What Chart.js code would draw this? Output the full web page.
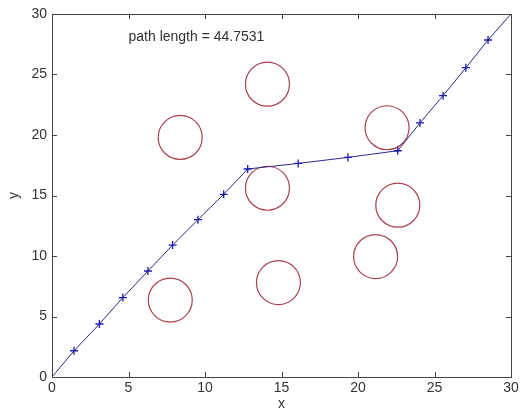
<!DOCTYPE html>
<html>
<head>
<meta charset="utf-8">
<script src="https://cdn.jsdelivr.net/npm/chart.js@4"></script>
<style>
  html, body { margin: 0; padding: 0; background: #fff; }
  #wrap { width: 520px; height: 415px; }
</style>
</head>
<body>
<div id="wrap"><canvas id="myChart" width="520" height="415"></canvas></div>
<script>
// path points (first and last are start / goal, drawn without markers)
const pathX = [0, 1.44, 3.1, 4.63, 6.27, 7.88, 9.54, 11.22, 12.79, 16.09, 19.34, 22.6, 24.05, 25.56, 27.05, 28.5, 30];
const pathY = [0, 2.17, 4.38, 6.56, 8.76, 10.9, 13.0, 15.1, 17.19, 17.65, 18.15, 18.7, 21.0, 23.25, 25.56, 27.85, 30];

// obstacle centres
const obsX = [8.38, 14.08, 14.08, 21.9, 22.6, 21.15, 14.8, 7.73];
const obsY = [19.8, 24.2, 15.6, 20.6, 14.2, 9.95, 7.8, 6.36];

const xTicks = [0, 5, 10, 15, 20, 25, 30];
const yTicks = [0, 5, 10, 15, 20, 25, 30];
const noteText = "path length = 44.7531";
const noteX = 5;
const noteY = 28.1;

const pathData = pathX.map((x, i) => ({ x: x, y: pathY[i] }));
const obsData = obsX.map((x, i) => ({ x: x, y: obsY[i], r: 22 }));

const fontFam = "'Liberation Sans', Arial, sans-serif";

// matlab-ish box with inward ticks and the text label
const boxPlugin = {
  id: "box",
  afterDraw(chart) {
    const { ctx, chartArea: a, scales } = chart;
    ctx.save();
    ctx.strokeStyle = "#444";
    ctx.lineWidth = 1;
    ctx.strokeRect(a.left + 0.5, a.top + 0.5, a.right - a.left, a.bottom - a.top);
    ctx.beginPath();
    xTicks.forEach((v) => {
      const px = Math.round(scales.x.getPixelForValue(v)) + 0.5;
      ctx.moveTo(px, a.bottom); ctx.lineTo(px, a.bottom - 5);
      ctx.moveTo(px, a.top); ctx.lineTo(px, a.top + 5);
    });
    yTicks.forEach((v) => {
      const py = Math.round(scales.y.getPixelForValue(v)) + 0.5;
      ctx.moveTo(a.left, py); ctx.lineTo(a.left + 5, py);
      ctx.moveTo(a.right, py); ctx.lineTo(a.right - 5, py);
    });
    ctx.stroke();
    ctx.fillStyle = "#333";
    ctx.font = "14px " + fontFam;
    ctx.textBaseline = "middle";
    ctx.fillText(noteText, scales.x.getPixelForValue(noteX), scales.y.getPixelForValue(noteY));
    ctx.restore();
  },
};

const ctx = document.getElementById("myChart").getContext("2d");
new Chart(ctx, {
  type: "scatter",
  data: {
    datasets: [
      {
        type: "line",
        label: "path",
        data: pathData,
        borderColor: "#2a2a8a",
        borderWidth: 1,
        pointStyle: "cross",
        pointRadius: pathData.map((p, i) => (i === 0 || i === pathData.length - 1 ? 0 : 4)),
        pointBorderColor: "#1a1aa8",
        pointBorderWidth: 1.3,
        fill: false,
        tension: 0,
      },
      {
        type: "bubble",
        label: "obstacles",
        data: obsData,
        backgroundColor: "rgba(0,0,0,0)",
        borderColor: "#a84050",
        borderWidth: 1.2,
      },
    ],
  },
  options: {
    responsive: false,
    animation: false,
    events: [],
    layout: { autoPadding: false, padding: { top: 14, right: 9, left: 0, bottom: 0 } },
    plugins: { legend: { display: false }, tooltip: { enabled: false } },
    scales: {
      x: {
        type: "linear",
        min: 0,
        max: 30,
        afterFit: (s) => { s.height = 38; s.paddingLeft = 0; s.paddingRight = 0; },
        afterBuildTicks: (s) => { s.ticks = xTicks.map((v) => ({ value: v })); },
        grid: { display: false, drawTicks: false },
        border: { display: false },
        ticks: { color: "#333", font: { size: 14, family: fontFam }, padding: 3 },
        title: { display: true, text: "x", color: "#333", font: { size: 14, family: fontFam }, padding: { top: 0, bottom: 2 } },
      },
      y: {
        type: "linear",
        min: 0,
        max: 30,
        afterFit: (s) => { s.width = 52; s.paddingTop = 0; s.paddingBottom = 0; },
        afterBuildTicks: (s) => { s.ticks = yTicks.map((v) => ({ value: v })); },
        grid: { display: false, drawTicks: false },
        border: { display: false },
        ticks: { color: "#333", font: { size: 14, family: fontFam }, padding: 5 },
        title: { display: true, text: "y", color: "#333", font: { size: 14, family: fontFam }, padding: { top: 6, bottom: 0 } },
      },
    },
  },
  plugins: [boxPlugin],
});
</script>
</body>
</html>
